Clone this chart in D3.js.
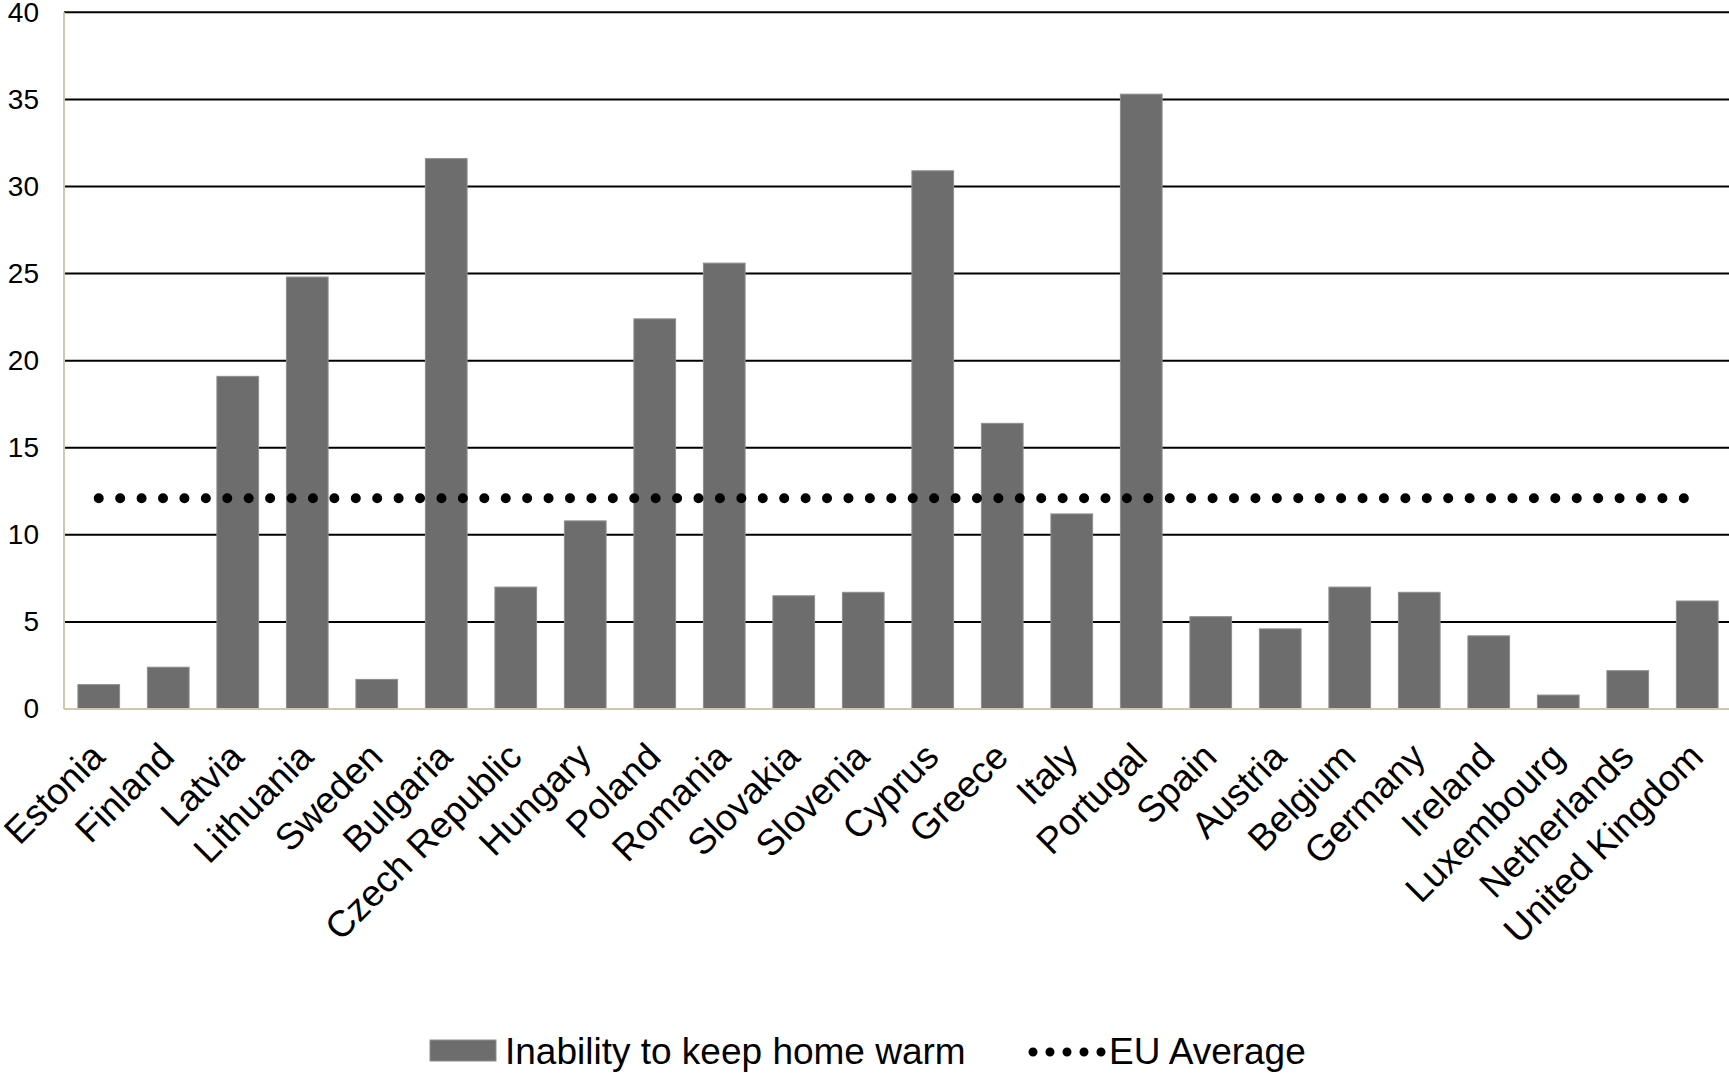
<!DOCTYPE html>
<html>
<head>
<meta charset="utf-8">
<script src="https://cdn.jsdelivr.net/npm/d3@7"></script>
<style>
  html, body { margin: 0; padding: 0; background: #fff; }
  svg { display: block; font-family: "Liberation Sans", Arial, sans-serif; }
</style>
</head>
<body>
<svg id="chart" width="1729" height="1073"></svg>
<script>
// Share of households unable to keep their home adequately warm (%)
const countries = ["Estonia", "Finland", "Latvia", "Lithuania", "Sweden", "Bulgaria",
  "Czech Republic", "Hungary", "Poland", "Romania", "Slovakia", "Slovenia", "Cyprus",
  "Greece", "Italy", "Portugal", "Spain", "Austria", "Belgium", "Germany", "Ireland",
  "Luxembourg", "Netherlands", "United Kingdom"];
const inability = [1.4, 2.4, 19.1, 24.8, 1.7, 31.6, 7.0, 10.8, 22.4, 25.6, 6.5, 6.7,
  30.9, 16.4, 11.2, 35.3, 5.3, 4.6, 7.0, 6.7, 4.2, 0.8, 2.2, 6.2];
const euAverage = 12.1;
const yTicks = [0, 5, 10, 15, 20, 25, 30, 35, 40];
const seriesNames = ["Inability to keep home warm", "EU Average"];

const svg = d3.select("#chart");
const plotLeft = 64, plotTop = 12.3, plotBottom = 709, step = 69.5;
const plotRight = plotLeft + step * countries.length;

const x = d3.scaleBand()
  .domain(countries)
  .range([plotLeft, plotRight])
  .paddingInner(0.4)
  .paddingOuter(0.2);
const y = d3.scaleLinear().domain([0, 40]).range([plotBottom, plotTop]);

// horizontal gridlines
svg.append("g")
  .selectAll("line")
  .data(yTicks.filter(d => d > 0))
  .join("line")
  .attr("x1", plotLeft).attr("x2", 1729)
  .attr("y1", d => y(d)).attr("y2", d => y(d))
  .attr("stroke", "#000").attr("stroke-width", 2);

// value axis labels
const yAxis = d3.axisLeft(y).tickValues(yTicks).tickSize(0).tickPadding(0);
const yG = svg.append("g").attr("transform", `translate(${plotLeft - 25},0)`).call(yAxis);
yG.select(".domain").remove();
yG.selectAll("text")
  .attr("font-size", 28).attr("fill", "#000")
  .attr("font-family", "'Liberation Sans', Arial, sans-serif");

// bars
svg.append("g")
  .selectAll("rect")
  .data(countries.map((c, i) => ({ c, v: inability[i] })))
  .join("rect")
  .attr("x", d => x(d.c))
  .attr("width", x.bandwidth())
  .attr("y", d => y(d.v))
  .attr("height", d => y(0) - y(d.v))
  .attr("fill", "#6d6d6d")
  .attr("stroke", "#8e8e92")
  .attr("stroke-width", 1);

// axis lines
svg.append("line")
  .attr("x1", plotLeft).attr("x2", plotLeft).attr("y1", plotTop).attr("y2", plotBottom)
  .attr("stroke", "#cdc9ad").attr("stroke-width", 2);
svg.append("line")
  .attr("x1", plotLeft).attr("x2", 1729).attr("y1", plotBottom).attr("y2", plotBottom)
  .attr("stroke", "#cdc9ad").attr("stroke-width", 2);

// EU average dotted line
const first = countries[0], last = countries[countries.length - 1];
svg.append("line")
  .attr("x1", x(first) + x.bandwidth() / 2)
  .attr("x2", x(last) + x.bandwidth() / 2)
  .attr("y1", y(euAverage)).attr("y2", y(euAverage))
  .attr("stroke", "#000").attr("stroke-width", 10)
  .attr("stroke-linecap", "round")
  .attr("stroke-dasharray", "0 21.42");

// category labels, rotated
svg.append("g")
  .selectAll("text")
  .data(countries)
  .join("text")
  .attr("transform", d => `translate(${x(d) + x.bandwidth() / 2 + 8},${plotBottom + 50}) rotate(-45)`)
  .attr("text-anchor", "end")
  .attr("font-size", 37)
  .attr("fill", "#000")
  .text(d => d);

// legend
const lg = svg.append("g");
lg.append("rect")
  .attr("x", 430).attr("y", 1040).attr("width", 66).attr("height", 21)
  .attr("fill", "#6d6d6d").attr("stroke", "#8e8e92").attr("stroke-width", 1);
lg.append("text")
  .attr("x", 505).attr("y", 1064)
  .attr("font-size", 37).attr("fill", "#000")
  .text(seriesNames[0]);
lg.append("line")
  .attr("x1", 1033).attr("x2", 1102).attr("y1", 1052).attr("y2", 1052)
  .attr("stroke", "#000").attr("stroke-width", 9)
  .attr("stroke-linecap", "round")
  .attr("stroke-dasharray", "0 17");
lg.append("text")
  .attr("x", 1109).attr("y", 1064)
  .attr("font-size", 37).attr("fill", "#000")
  .text(seriesNames[1]);
</script>
</body>
</html>
